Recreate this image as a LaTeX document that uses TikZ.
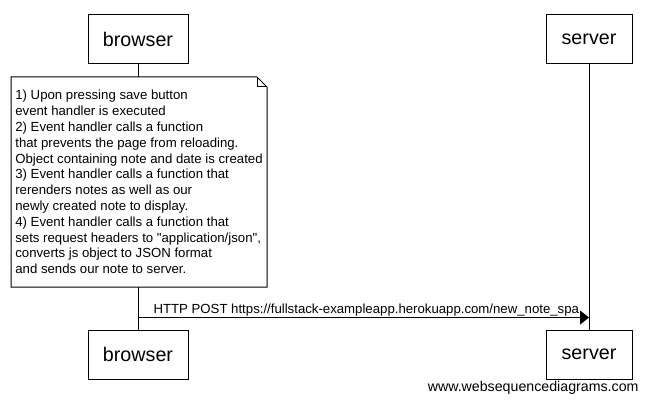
\documentclass[tikz,border=0pt]{standalone}
\usepackage{fontspec}
\setmainfont{Liberation Sans}
\usetikzlibrary{arrows.meta}

\begin{document}
\begin{tikzpicture}[x=1pt,y=-1pt,line width=1pt,
  actor/.style={draw, minimum width=100pt, minimum height=49pt, inner sep=0pt, font=\fontsize{19.7}{23}\selectfont},
  lbl/.style={inner sep=0pt, font=\fontsize{13.2}{15.8}\selectfont}]
\useasboundingbox (0,0) rectangle (647,403);

\node[actor] (b1) at (138,39.5) {browser};
\node[actor, minimum width=86pt] (s1) at (589,39.5) {server};
\node[actor] (b2) at (138,354.5) {browser};
\node[actor, minimum width=86pt] (s2) at (589,354.5) {server};

\node[lbl, minimum width=255pt, minimum height=209pt, align=left, anchor=north west] (note) at (11,77) {1) Upon pressing save button\\
event handler is executed\\
2) Event handler calls a function\\
that prevents the page from reloading.\\
Object containing note and date is created\\
3) Event handler calls a function that\\
rerenders notes as well as our\\
newly created note to display.\\
4) Event handler calls a function that\\
sets request headers to \textquotedbl application/json\textquotedbl,\\
converts js object to JSON format\\
and sends our note to server.};
\draw (note.north west) -- ([xshift=-10pt]note.north east) -- ([yshift=-10pt]note.north east) -- (note.south east) -- (note.south west) -- cycle;
\draw ([xshift=-10pt]note.north east) -- ([xshift=-10pt,yshift=-10pt]note.north east) -- ([yshift=-10pt]note.north east);

\draw (b1.south) -- (b1.south |- note.north);
\draw (b2.north |- note.south) -- (b2.north);
\draw (s1.south) -- (s2.north);

\path (b2.north) ++(0,-12) coordinate (from);
\draw[-{Triangle[length=9pt,width=14pt]}] (from) -- (from -| s2.north);
\node[lbl, anchor=base west] (msg) at (153,313) {HTTP POST https://fullstack-exampleapp.herokuapp.com/new\_note\_spa};

\node[inner sep=0pt, anchor=base east, font=\fontsize{14.2}{16}\selectfont] (wm) at (639,391) {www.websequencediagrams.com};
\end{tikzpicture}
\end{document}
